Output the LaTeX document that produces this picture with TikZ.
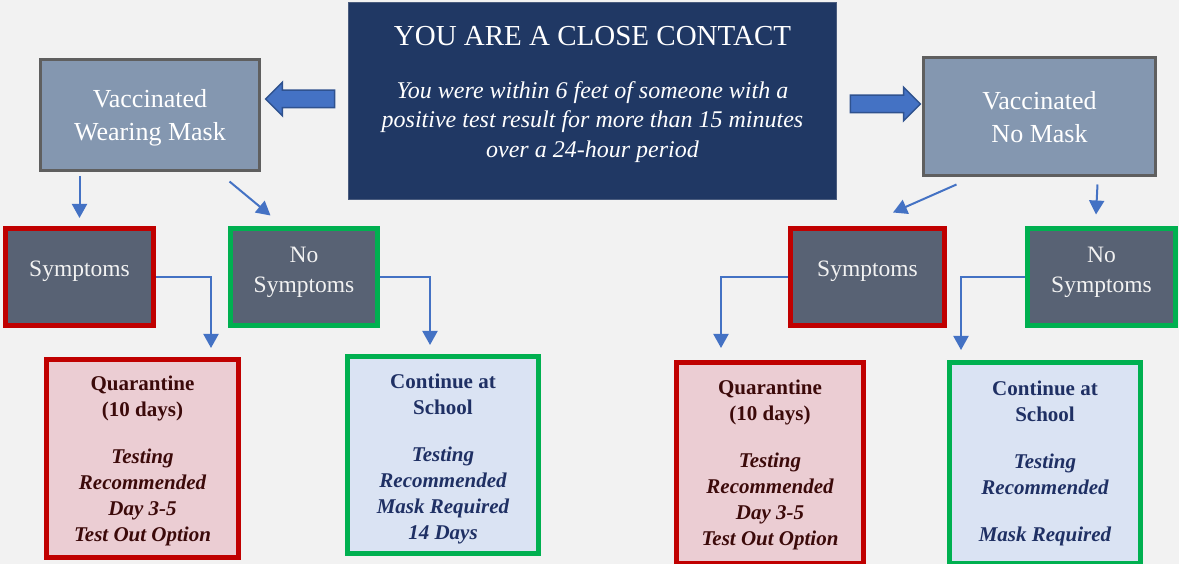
\documentclass[tikz,border=0pt]{standalone}
\usepackage{fontspec}
\setmainfont{Liberation Serif}[
    BoldFont={Liberation Serif Bold},
    ItalicFont={Liberation Serif Italic},
    BoldItalicFont={Liberation Serif Bold Italic}]
\usetikzlibrary{arrows.meta,shapes.arrows}

\definecolor{pagebg}{HTML}{F2F2F2}
\definecolor{navybox}{HTML}{203864}
\definecolor{navyedge}{HTML}{4A5C7E}
\definecolor{slatebox}{HTML}{8497B0}
\definecolor{slateedge}{HTML}{5F5F5F}
\definecolor{darkbox}{HTML}{586274}
\definecolor{stopred}{HTML}{C00000}
\definecolor{gogreen}{HTML}{00B050}
\definecolor{pinkfill}{HTML}{EBCDD3}
\definecolor{bluefill}{HTML}{DAE3F3}
\definecolor{maroontext}{HTML}{3C0A0A}
\definecolor{navytext}{HTML}{1F3064}
\definecolor{flowblue}{HTML}{4472C4}
\definecolor{flowedge}{HTML}{2F528F}

% empty struts that push the text up or down inside a box
\newcommand{\padbelow}[1]{\rule[-#1]{0pt}{#1}}
\newcommand{\padabove}[1]{\rule{0pt}{#1}}

\begin{document}
\begin{tikzpicture}[x=1pt, y=-1pt,
    contactbox/.style={draw=navyedge, line width=1pt, fill=navybox, text=white,
        align=center, inner sep=0pt},
    groupbox/.style={draw=slateedge, line width=3pt, fill=slatebox, text=white,
        align=center, inner sep=0pt, font=\fontsize{26}{33}\selectfont},
    sympbox/.style={line width=5pt, fill=darkbox, text=pagebg, align=center,
        inner sep=0pt, minimum height=97pt, font=\fontsize{23.5}{30}\selectfont},
    outcome/.style={line width=5pt, align=center, inner sep=0pt,
        font=\fontsize{21}{26}\selectfont\bfseries},
    quarbox/.style={outcome, draw=stopred, fill=pinkfill, text=maroontext},
    schoolbox/.style={outcome, draw=gogreen, fill=bluefill, text=navytext},
    blockarrow/.style={single arrow, draw=flowedge, line width=1.5pt, fill=flowblue,
        inner xsep=0pt, inner ysep=8pt, single arrow head extend=8pt},
    flow/.style={draw=flowblue, line width=2pt, -{Triangle[width=15pt,length=14pt]}}]

    \useasboundingbox (0,0) rectangle (1179,564);
    \fill[pagebg] (0,0) rectangle (1179,564);

    % Top: close contact
    \node[contactbox, minimum width=488pt, minimum height=197pt,
        font=\fontsize{24}{29.5}\selectfont] (contact) at (592.5,101)
        {{\fontsize{29}{29.5}\selectfont YOU ARE A CLOSE CONTACT}\\[23pt]
         \itshape You were within 6 feet of someone with a\\
         \itshape positive test result for more than 15 minutes\\
         \itshape over a 24-hour period\padbelow{18pt}};

    % Vaccinated groups
    \node[groupbox, minimum width=219pt, minimum height=111pt] (vacmask) at (150,115)
        {\padabove{24pt}Vaccinated\\Wearing Mask};
    \node[groupbox, minimum width=232pt, minimum height=118pt] (vacnomask) at (1039.5,116.5)
        {\padabove{20pt}Vaccinated\\No Mask};

    \node[blockarrow, shape border rotate=180, minimum height=69pt, minimum width=32pt]
        (arrleft) at (304.5,99) {};
    \node[blockarrow, minimum height=70pt, minimum width=32pt]
        (arrright) at (881,104) {};

    % Symptom boxes
    \node[sympbox, draw=stopred, minimum width=148pt] (sympleft) at (79.5,277)
        {Symptoms\padbelow{17pt}};
    \node[sympbox, draw=gogreen, minimum width=147pt] (nosympleft) at (304,277)
        {No\\Symptoms\padbelow{14pt}};
    \node[sympbox, draw=stopred, minimum width=154pt] (sympright) at (867.5,277)
        {Symptoms\padbelow{17pt}};
    \node[sympbox, draw=gogreen, minimum width=148pt] (nosympright) at (1101.5,277)
        {No\\Symptoms\padbelow{14pt}};

    % Outcomes
    \node[quarbox, minimum width=192pt, minimum height=198pt] (quarleft) at (142.5,458.5)
        {\padabove{20pt}Quarantine\\(10 days)\\[21pt]
         \itshape Testing\\\itshape Recommended\\\itshape Day 3-5\\\itshape Test Out Option};
    \node[schoolbox, minimum width=191pt, minimum height=197pt] (schoolleft) at (443,455)
        {\padabove{22pt}Continue at\\School\\[21pt]
         \itshape Testing\\\itshape Recommended\\\itshape Mask Required\\\itshape 14 Days};
    \node[quarbox, minimum width=187pt, minimum height=201pt] (quarright) at (770,463)
        {\padabove{18pt}Quarantine\\(10 days)\\[21pt]
         \itshape Testing\\\itshape Recommended\\\itshape Day 3-5\\\itshape Test Out Option};
    \node[schoolbox, minimum width=191pt, minimum height=201pt] (schoolright) at (1045,463)
        {Continue at\\School\\[21pt]
         \itshape Testing\\\itshape Recommended\\[21pt]\itshape Mask Required};

    % Arrow tips above the outcome boxes
    \coordinate (intoquarleft) at (211,348);
    \coordinate (intoschoolleft) at (430,345);
    \coordinate (intoquarright) at (721,348);
    \coordinate (intoschoolright) at (961,350);

    % Connectors
    \draw[flow, shorten <=4pt] (sympleft.north |- vacmask.south) -- ([yshift=8pt]sympleft.north);
    \draw[flow] ([shift={(-31.5pt,-9.5pt)}]vacmask.south east)
        -- ([shift={(42.5pt,10.5pt)}]nosympleft.north west);
    \draw[flow] ([shift={(34.5pt,-7.5pt)}]vacnomask.south west)
        -- ([shift={(25.5pt,13.5pt)}]sympright.north);
    \draw[flow] ([shift={(-59.5pt,-7.5pt)}]vacnomask.south east)
        -- ([shift={(-5.5pt,11.5pt)}]nosympright.north);

    \draw[flow] (sympleft.east) -| (intoquarleft);
    \draw[flow] (nosympleft.east) -| (intoschoolleft);
    \draw[flow] (sympright.west) -| (intoquarright);
    \draw[flow] (nosympright.west) -| (intoschoolright);

\end{tikzpicture}
\end{document}
